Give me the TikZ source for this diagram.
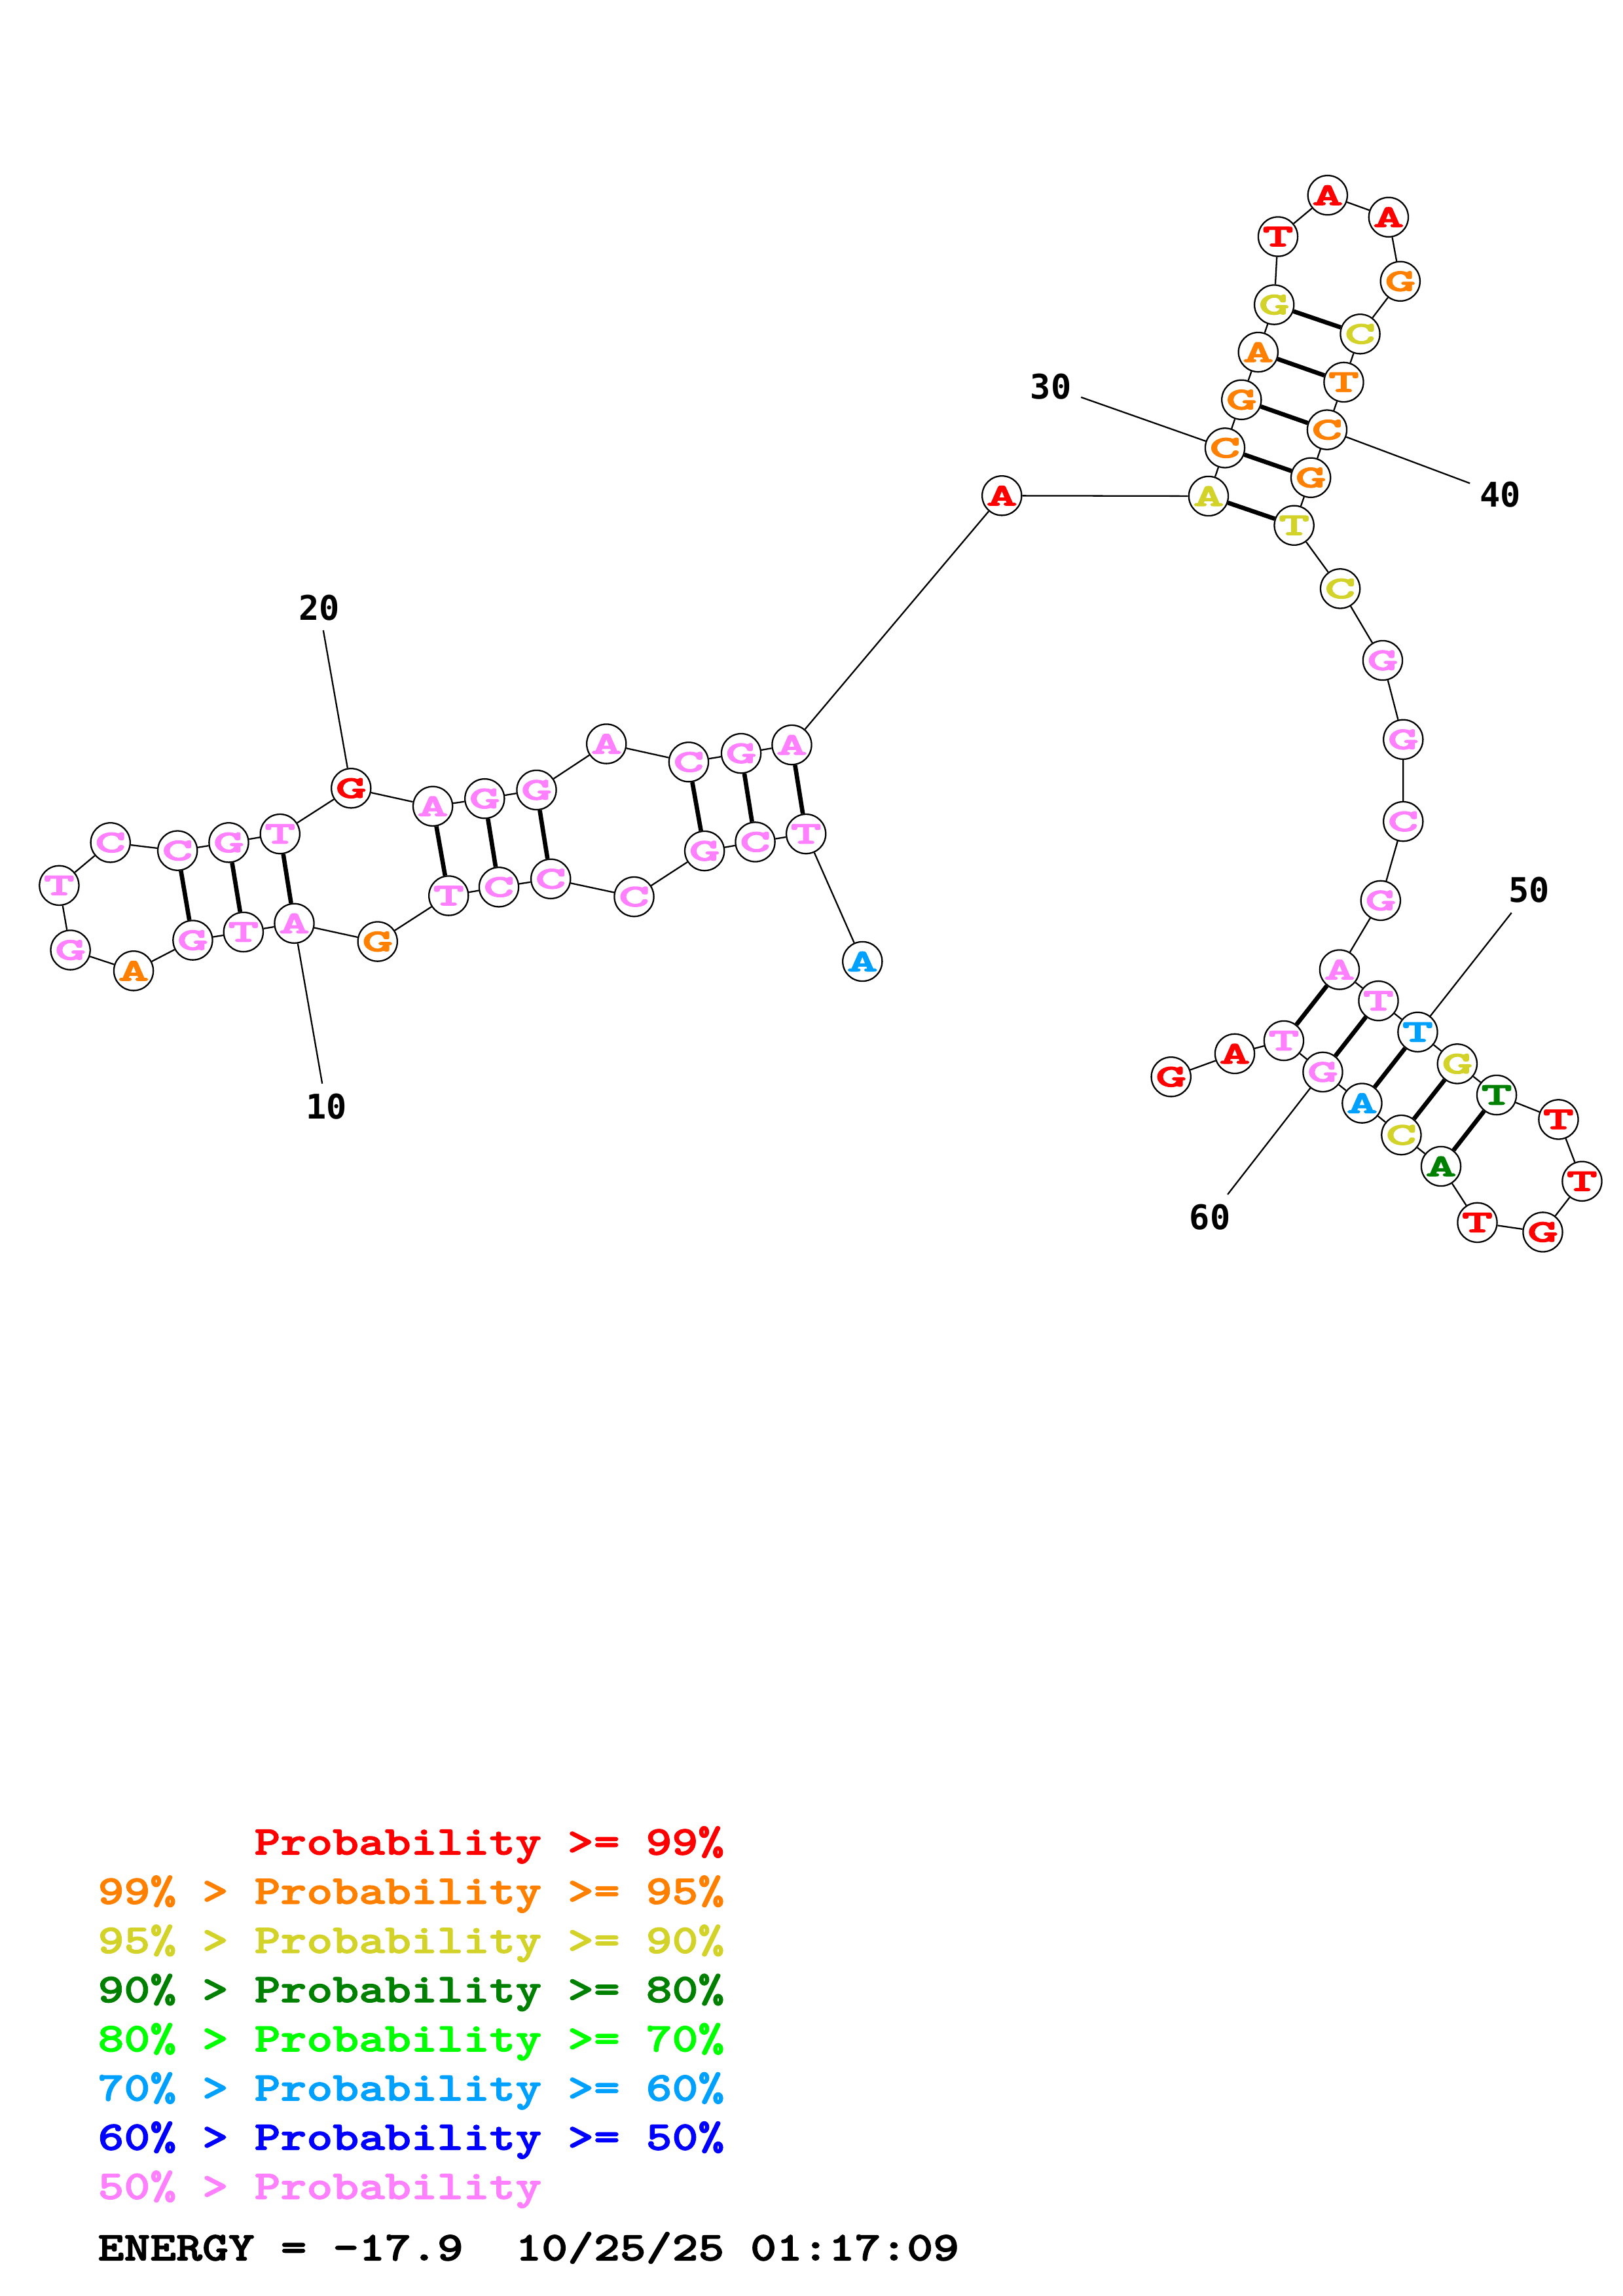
\documentclass[tikz,border=0pt]{standalone}
\usepackage{fontspec}
\newfontfamily\ntfont[FakeStretch=1.9,FakeBold=3]{lmmonolt10-bold.otf}
\newfontfamily\legfont[FakeStretch=1.22,FakeBold=2]{lmmonolt10-bold.otf}
\newfontfamily\numfont{DejaVu Sans Mono}
\definecolor{cp99}{RGB}{255,0,0}
\definecolor{cp95}{RGB}{255,128,0}
\definecolor{cp90}{RGB}{210,210,40}
\definecolor{cp80}{RGB}{0,128,0}
\definecolor{cp70}{RGB}{0,255,0}
\definecolor{cp60}{RGB}{0,160,255}
\definecolor{cp50}{RGB}{0,0,255}
\definecolor{cplow}{RGB}{255,128,255}
\begin{document}
\begin{tikzpicture}[x=0.018953cm,y=-0.018953cm,
    nt/.style={circle,draw,line width=0.55pt,fill=white,minimum
        size=0.51cm,inner sep=0pt,font=\ntfont\fontsize{11.5}{11.5}\selectfont},
    p99/.style={nt,text=cp99},p95/.style={nt,text=cp95},
    p90/.style={nt,text=cp90},p80/.style={nt,text=cp80},
    p60/.style={nt,text=cp60},plow/.style={nt,text=cplow},
    bb/.style={line width=0.55pt},pair/.style={line width=1.6pt},
    num/.style={inner sep=0.12cm,font=\numfont\bfseries\fontsize{12.5}{12.5}\selectfont},
    leg/.style={anchor=base west,inner sep=0pt,font=\legfont\fontsize{15}{15}\selectfont}]
    \useasboundingbox (0,0) rectangle (1108,1568);

    % 5' stem and left hairpin
    \node[p60] (n1) at (588.8,656.6) {A};
    \node[plow] (n2) at (550.3,569.5) {T};
    \node[plow] (n3) at (515.6,575) {C};
    \node[plow] (n4) at (481,581.1) {G};
    \node[plow] (n5) at (432.9,612.4) {C};
    \node[plow] (n6) at (376,600.2) {C};
    \node[plow] (n7) at (340.6,605.8) {C};
    \node[plow] (n8) at (306.3,611.7) {T};
    \node[p95] (n9) at (257.8,643) {G};
    \node[plow] (n10) at (200.9,630.6) {A};
    \node[plow] (n11) at (166.2,636.5) {T};
    \node[plow] (n12) at (131.6,642.1) {G};
    \node[p95] (n13) at (91.2,663) {A};
    \node[plow] (n14) at (48.1,648.8) {G};
    \node[plow] (n15) at (40.4,604.7) {T};
    \node[plow] (n16) at (75.4,575.4) {C};
    \node[plow] (n17) at (121.2,580.9) {C};
    \node[plow] (n18) at (156.2,575.4) {G};
    \node[plow] (n19) at (191.2,569.5) {T};
    \node[p99] (n20) at (239.7,538.3) {G};
    \node[plow] (n21) at (295.5,550.6) {A};
    \node[plow] (n22) at (330.9,545.4) {G};
    \node[plow] (n23) at (366.3,539.5) {G};
    \node[plow] (n24) at (414,508) {A};
    \node[plow] (n25) at (470.2,520.4) {C};
    \node[plow] (n26) at (506,514.5) {G};
    \node[plow] (n27) at (540.6,508.7) {A};
    \node[p99] (n28) at (684,338.5) {A};

    % upper hairpin
    \node[p90] (n29) at (825.1,338.8) {A};
    \node[p95] (n30) at (836.3,305.9) {C};
    \node[p95] (n31) at (847.6,273) {G};
    \node[p95] (n32) at (859,240.5) {A};
    \node[p90] (n33) at (869.9,208.1) {G};
    \node[p99] (n34) at (872.5,161.6) {T};
    \node[p99] (n35) at (906.4,133.3) {A};
    \node[p99] (n36) at (948,148.3) {A};
    \node[p95] (n37) at (956,192.1) {G};
    \node[p90] (n38) at (928.6,228.1) {C};
    \node[p95] (n39) at (917.4,261) {T};
    \node[p95] (n40) at (906,293.5) {C};
    \node[p95] (n41) at (894.9,326.2) {G};
    \node[p90] (n42) at (883.5,358.8) {T};
    \node[p90] (n43) at (915,402) {C};
    \node[plow] (n44) at (944,451) {G};
    \node[plow] (n45) at (958,505) {G};
    \node[plow] (n46) at (958,561) {C};
    \node[plow] (n47) at (942.6,615) {G};

    % lower hairpin and 3' end
    \node[plow] (n48) at (914.5,662.2) {A};
    \node[plow] (n49) at (941.1,683.5) {T};
    \node[p60] (n50) at (967.9,704.8) {T};
    \node[p90] (n51) at (994.9,726.5) {G};
    \node[p80] (n52) at (1021.8,747.8) {T};
    \node[p99] (n53) at (1064,764.5) {T};
    \node[p99] (n54) at (1080.1,806.7) {T};
    \node[p99] (n55) at (1053.3,841.4) {G};
    \node[p99] (n56) at (1008.6,834.9) {T};
    \node[p80] (n57) at (983.8,796.5) {A};
    \node[p90] (n58) at (956.7,775.1) {C};
    \node[p60] (n59) at (929.9,753.4) {A};
    \node[plow] (n60) at (903.1,732.1) {G};
    \node[plow] (n61) at (876.5,710.7) {T};
    \node[p99] (n62) at (843,719.6) {A};
    \node[p99] (n63) at (799.5,735.4) {G};

    % backbone
    \draw[bb] (n1) -- (n2) -- (n3) -- (n4) -- (n5) -- (n6) -- (n7) --
    (n8) -- (n9) -- (n10) -- (n11) -- (n12) -- (n13) -- (n14) -- (n15)
    -- (n16) -- (n17) -- (n18) -- (n19) -- (n20) -- (n21) -- (n22) --
    (n23) -- (n24) -- (n25) -- (n26) -- (n27) -- (n28) -- (n29) -- (n30)
    -- (n31) -- (n32) -- (n33) -- (n34) -- (n35) -- (n36) -- (n37) --
    (n38) -- (n39) -- (n40) -- (n41) -- (n42) -- (n43) -- (n44) -- (n45)
    -- (n46) -- (n47) -- (n48) -- (n49) -- (n50) -- (n51) -- (n52) --
    (n53) -- (n54) -- (n55) -- (n56) -- (n57) -- (n58) -- (n59) -- (n60)
    -- (n61) -- (n62) -- (n63);

    % base pairs
    \draw[pair] (n2) -- (n27);
    \draw[pair] (n3) -- (n26);
    \draw[pair] (n4) -- (n25);
    \draw[pair] (n6) -- (n23);
    \draw[pair] (n7) -- (n22);
    \draw[pair] (n8) -- (n21);
    \draw[pair] (n10) -- (n19);
    \draw[pair] (n11) -- (n18);
    \draw[pair] (n12) -- (n17);
    \draw[pair] (n29) -- (n42);
    \draw[pair] (n30) -- (n41);
    \draw[pair] (n31) -- (n40);
    \draw[pair] (n32) -- (n39);
    \draw[pair] (n33) -- (n38);
    \draw[pair] (n48) -- (n61);
    \draw[pair] (n49) -- (n60);
    \draw[pair] (n50) -- (n59);
    \draw[pair] (n51) -- (n58);
    \draw[pair] (n52) -- (n57);

    % position numbers
    \node[num] (l10) at (222.7,755.5) {10};
    \node[num] (l20) at (218,415) {20};
    \node[num] (l30) at (717.4,264) {30};
    \node[num] (l40) at (1024.2,337.8) {40};
    \node[num] (l50) at (1044.1,607.9) {50};
    \node[num] (l60) at (826.1,831.2) {60};
    \draw[bb] (n10) -- (l10);
    \draw[bb] (n20) -- (l20);
    \draw[bb] (n30) -- (l30);
    \draw[bb] (n40) -- (l40);
    \draw[bb] (n50) -- (l50);
    \draw[bb] (n60) -- (l60);

    % legend
    \node[leg,text=cp99] (leg99) at (173.3,1266.5) {Probability >= 99\%};
    \node[leg,text=cp95] (leg95) at (66.5,1300.1) {99\% > Probability >= 95\%};
    \node[leg,text=cp90] (leg90) at (66.5,1333.7) {95\% > Probability >= 90\%};
    \node[leg,text=cp80] (leg80) at (66.5,1367.3) {90\% > Probability >= 80\%};
    \node[leg,text=cp70] (leg70) at (66.5,1400.9) {80\% > Probability >= 70\%};
    \node[leg,text=cp60] (leg60) at (66.5,1434.5) {70\% > Probability >= 60\%};
    \node[leg,text=cp50] (leg50) at (66.5,1468.1) {60\% > Probability >= 50\%};
    \node[leg,text=cplow] (leglow) at (66.5,1501.7) {50\% > Probability};
    \node[leg] (energy) at (66.5,1543.6) {ENERGY = -17.9\ \ 10/25/25 01:17:09};
  \end{tikzpicture}
\end{document}
